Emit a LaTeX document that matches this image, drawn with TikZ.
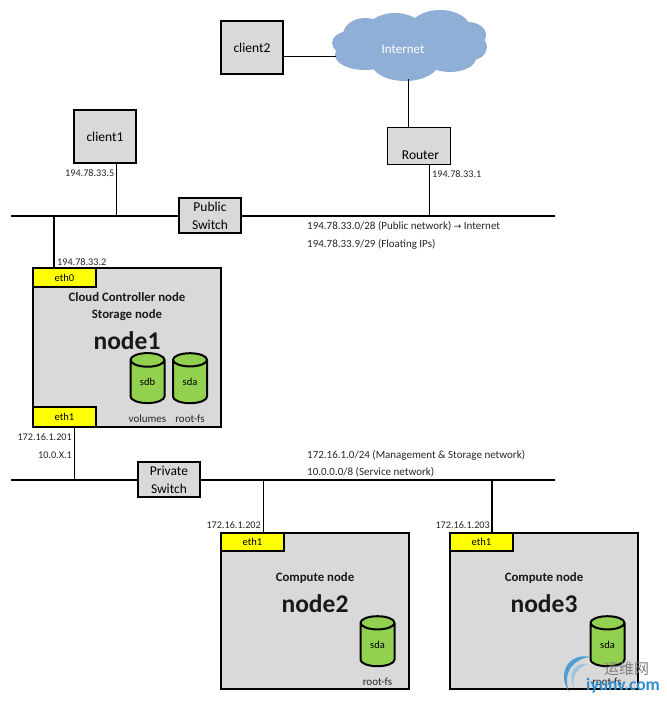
\documentclass[tikz,border=0pt]{standalone}
\usepackage{fontspec}
\setmainfont{Carlito}
\newfontfamily\cjkwm{Noto Sans CJK SC}
\newfontfamily\arrowfont{DejaVu Sans}
\usetikzlibrary{shapes.geometric}
\definecolor{boxgray}{HTML}{D9D9D9}
\definecolor{ethyellow}{HTML}{FFFF00}
\definecolor{diskgreen}{HTML}{92D050}
\definecolor{cloudblue}{HTML}{8FAFD6}
\definecolor{wmblue}{HTML}{2E8FD0}
\tikzset{
  x=1pt,y=-1pt,
  boxbase/.style={draw=black,fill=boxgray,anchor=north west,inner sep=0pt,outer sep=0pt},
  client/.style={boxbase,line width=2pt,minimum width=62pt,minimum height=53pt,font=\fontsize{13.5}{13.5}\selectfont},
  switchbox/.style={boxbase,line width=1.6pt,minimum width=62pt,minimum height=35pt,align=center,font=\fontsize{13.5}{18}\selectfont},
  router/.style={boxbase,line width=.8pt,minimum width=63pt,minimum height=37pt},
  hostbox/.style={boxbase,line width=2pt,minimum width=188pt},
  eth/.style={draw=black,line width=2pt,fill=ethyellow,anchor=north west,inner sep=0pt,outer sep=0pt,minimum width=63pt,font=\fontsize{10.5}{10.5}\selectfont},
  link/.style={draw=black,line width=1pt},
  thick link/.style={draw=black,line width=1.5pt},
  bus/.style={draw=black,line width=2pt},
  ip/.style={inner sep=0pt,font=\fontsize{10.2}{11}\selectfont,text=black!85},
  netinfo/.style={inner sep=0pt,font=\fontsize{11}{11}\selectfont,text=black!85},
  role/.style={inner sep=0pt,font=\fontsize{12.8}{13}\selectfont\bfseries,text=black!90},
  hostname/.style={inner sep=0pt,font=\fontsize{25.5}{26}\selectfont\bfseries,text=black!90},
  disk/.style={cylinder,shape border rotate=90,draw=black,line width=2pt,fill=diskgreen,aspect=.9,
     minimum width=34pt,minimum height=50pt,inner sep=0pt,font=\fontsize{10.5}{10.5}\selectfont},
  disklabel/.style={inner sep=0pt,font=\fontsize{11}{11}\selectfont,text=black!85},
}
\begin{document}
\begin{tikzpicture}
\useasboundingbox (0,0) rectangle (667,702);
\fill[white] (0,0) rectangle (667,702);

% junctions
\coordinate (pubL) at (11,216);
\coordinate (pubR) at (555,216);
\coordinate (privL) at (11,480);
\coordinate (privR) at (555,480);
\coordinate (jClient1) at (116,216);
\coordinate (jRouter) at (429.5,216);
\coordinate (jNode1) at (54,216);
\coordinate (jEth1) at (74,480);
\coordinate (jNode2) at (263,480);
\coordinate (jNode3) at (492,480);
\coordinate (cloudEntry) at (336,56.5);
\coordinate (cloudExit) at (408.5,79);

% buses first
\draw[bus] (pubL) -- (pubR);
\draw[bus] (privL) -- (privR);

% boxes
\node[client] (client2) at (221,21) {client2};
\node[client] (client1) at (74,110) {client1};

% cloud
\fill[cloudblue]
  (350,43) ellipse[x radius=18,y radius=12]
  (365,35) ellipse[x radius=22,y radius=17]
  (395,30) ellipse[x radius=28,y radius=17]
  (440,28) ellipse[x radius=30,y radius=18]
  (468,35) ellipse[x radius=18,y radius=13]
  (472,47) ellipse[x radius=15,y radius=13]
  (450,58) ellipse[x radius=26,y radius=14]
  (405,62) ellipse[x radius=34,y radius=19]
  (365,55) ellipse[x radius=30,y radius=15]
  (410,45) ellipse[x radius=60,y radius=25];
\node[inner sep=0pt,text=white,font=\fontsize{13}{13}\selectfont] (internet) at (403,49) {Internet};

\node[router] (router) at (387,127) {};
\node[inner sep=0pt,font=\fontsize{13.5}{13.5}\selectfont] (routerlabel) at (420.5,155) {Router};
\node[switchbox] (pubswitch) at (179,198) {\raisebox{-1.5pt}{Public}\\\raisebox{-1.5pt}{Switch}};
\node[switchbox] (privswitch) at (138,462) {\raisebox{-1.5pt}{Private}\\\raisebox{-1.5pt}{Switch}};

\node[hostbox,minimum height=159pt] (node1) at (33,268) {};
\node[hostbox,minimum height=156pt] (node2) at (221,533) {};
\node[hostbox,minimum height=156pt] (node3) at (450,533) {};

\node[eth,minimum height=19pt] (n1eth0) at (33,268) {\raisebox{-1pt}{eth0}};
\node[eth,minimum height=20pt] (n1eth1) at (33,407) {\raisebox{-1pt}{eth1}};
\node[eth,minimum height=18pt] (n2eth1) at (221,533) {\raisebox{-1pt}{eth1}};
\node[eth,minimum height=18pt] (n3eth1) at (450,533) {\raisebox{-1pt}{eth1}};

% connectors
\draw[link] (client2.east |- cloudEntry) -- (cloudEntry);
\draw[link] (cloudExit) -- (cloudExit |- router.north);
\draw[link] (jRouter |- router.south) -- (jRouter);
\draw[link] (jClient1 |- client1.south) -- (jClient1);
\draw[thick link] (jNode1) -- (jNode1 |- node1.north);
\draw[link] (jEth1 |- node1.south) -- (jEth1);
\draw[link] (jNode2) -- (jNode2 |- node2.north);
\draw[thick link] (jNode3) -- (jNode3 |- node3.north);

% node text
\node[role] (n1r1) at (127,297) {Cloud Controller node};
\node[role] (n1r2) at (127,315) {Storage node};
\node[hostname] (n1n) at (127,341) {node1};
\node[role] (n2r) at (315,578) {Compute node};
\node[hostname] (n2n) at (315,604) {node2};
\node[role] (n3r) at (544,578) {Compute node};
\node[hostname] (n3n) at (544,604) {node3};

% disks
\node[disk] (d1) at (147.5,382) {sdb};
\node[disk] (d2) at (190,382) {sda};
\node[disk] (d3) at (377.5,645) {sda};
\node[disk] (d4) at (607.5,645) {sda};
\node[disklabel] (v1) at (147.5,419) {volumes};
\node[disklabel] (v2) at (190,419) {root-fs};
\node[disklabel] (v3) at (377.5,682) {root-fs};
\node[disklabel] (v4) at (607,682) {root-fs};

% addresses
\node[ip,anchor=west] (a1) at (65,173) {194.78.33.5};
\node[ip,anchor=west] (a2) at (432,174) {194.78.33.1};
\node[netinfo,anchor=west] (a3) at (307,226) {194.78.33.0/28 (Public network) {\arrowfont\fontsize{9}{11}\selectfont→} Internet};
\node[netinfo,anchor=west] (a4) at (307,244) {194.78.33.9/29 (Floating IPs)};
\node[ip,anchor=west] (a5) at (57,262) {194.78.33.2};
\node[ip,anchor=east] (a6) at (72,437) {172.16.1.201};
\node[ip,anchor=east] (a7) at (72,455) {10.0.X.1};
\node[netinfo,anchor=west] (a8) at (307,455) {172.16.1.0/24 (Management \& Storage network)};
\node[netinfo,anchor=west] (a9) at (307,472) {10.0.0.0/8 (Service network)};
\node[ip,anchor=east] (a10) at (261,525) {172.16.1.202};
\node[ip,anchor=east] (a11) at (490,525) {172.16.1.203};

% watermark
\fill[wmblue,opacity=.8] (591,657) .. controls (570,652) and (556,672) .. (569,692) .. controls (562,672) and (574,658) .. (591,657);
\fill[wmblue!60,opacity=.7] (588,664) .. controls (574,662) and (567,675) .. (574,688) .. controls (571,676) and (578,667) .. (588,664);
\node[inner sep=0pt,anchor=west,text=black!50,font=\cjkwm\fontsize{15}{15}\selectfont] (wm1) at (604,669) {运维网};
\node[inner sep=0pt,anchor=west,text=wmblue,font=\fontsize{17.5}{17.5}\selectfont\bfseries] (wm2) at (586,686) {iyunv.com};
\end{tikzpicture}
\end{document}
